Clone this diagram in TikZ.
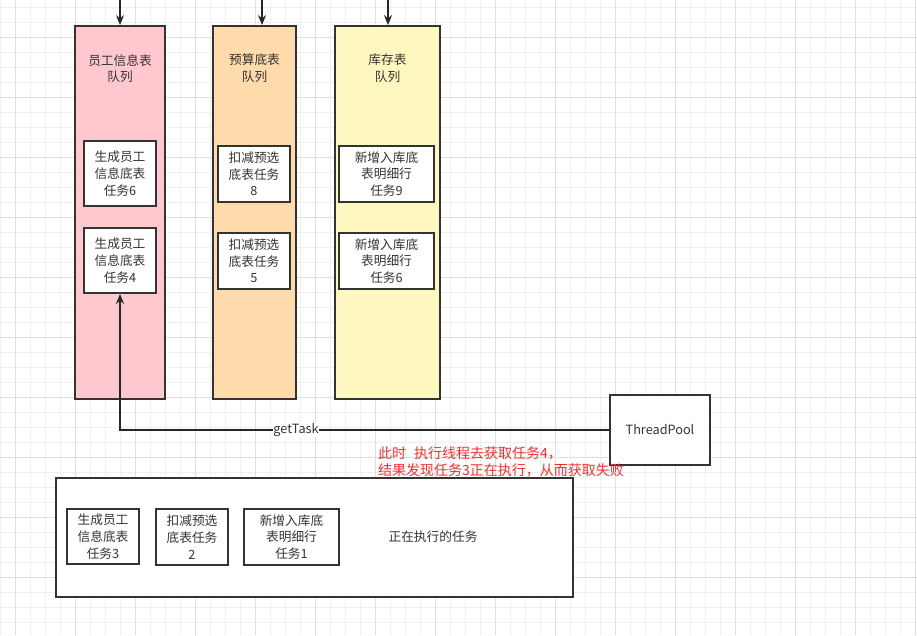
\documentclass[tikz,border=0pt]{standalone}
\usepackage{fontspec}
\setmainfont{Noto Sans CJK SC}
\usetikzlibrary{positioning}
\usetikzlibrary{arrows.meta}

\definecolor{gridminor}{HTML}{EFEFEF}
\definecolor{gridmajor}{HTML}{DFDFDF}
\definecolor{pinkq}{HTML}{FFC8CE}
\definecolor{orangeq}{HTML}{FFDAAA}
\definecolor{yellowq}{HTML}{FFF7C0}
\definecolor{inktext}{HTML}{333333}
\definecolor{warnred}{HTML}{FF2A2A}

\begin{document}
\begin{tikzpicture}
		[x=1pt, y=-1pt, >={Stealth[length=10pt,width=8pt]},
		 txt/.style={text=inktext, font=\fontsize{12.7}{16.7}\selectfont, align=center, inner sep=1pt},
		 queue/.style={draw=black!80, line width=1.8pt, minimum height=373pt},
		 task/.style={txt, draw=black!80, fill=white, line width=1.8pt, minimum height=56pt},
		 link/.style={draw=black!85, line width=1.4pt}]
		\useasboundingbox (0,0) rectangle (917,635);
		% grid
		\foreach \gx in {0,15,...,915} \draw[gridminor, line width=0.8pt] (\gx,0) -- (\gx,635);
		\foreach \gy in {7,22,...,622} \draw[gridminor, line width=0.8pt] (0,\gy) -- (917,\gy);
		\foreach \gx in {15,75,...,915} \draw[gridmajor, line width=0.8pt] (\gx,0) -- (\gx,635);
		\foreach \gy in {37,97,...,577} \draw[gridmajor, line width=0.8pt] (0,\gy) -- (917,\gy);

		% queues
		\node[queue, fill=pinkq, minimum width=90pt] (empq) at (120,212.5) {};
		\node[queue, fill=orangeq, minimum width=83pt] (budq) at (254.5,212.5) {};
		\node[queue, fill=yellowq, minimum width=105pt] (stockq) at (387.5,212.5) {};
		\node[txt] at (120,68.5) {员工信息表\\队列};
		\node[txt] at (254.5,68.5) {预算底表\\队列};
		\node[txt] at (387.5,68.5) {库存表\\队列};

		\coordinate (empin) at (120,0);
		\coordinate (budin) at (262,0);
		\coordinate (stockin) at (388,0);
		\draw[link, ->] (empin) -- (empin |- empq.north);
		\draw[link, ->] (budin) -- (budin |- budq.north);
		\draw[link, ->] (stockin) -- (stockin |- stockq.north);

		% queued tasks
		\node[task, minimum width=72pt, minimum height=65pt] (emp6) at (120,173.5) {生成员工\\信息底表\\任务6};
		\node[task, minimum width=72pt, minimum height=65pt] (emp4) at (120,260.5) {生成员工\\信息底表\\任务4};
		\node[task, minimum width=72pt] (bud8) at (254,174) {扣减预选\\底表任务\\8};
		\node[task, minimum width=72pt] (bud5) at (254,261) {扣减预选\\底表任务\\5};
		\node[task, minimum width=95pt] (stock9) at (386.5,174) {新增入库底\\表明细行\\任务9};
		\node[task, minimum width=95pt] (stock6) at (386.5,261) {新增入库底\\表明细行\\任务6};

		% pool
		\node[task, minimum width=100pt, minimum height=70pt] (pool) at (660,430) {ThreadPool};
		\draw[link, ->] (pool) -| node[txt, fill=white, pos=0.32, inner sep=0.5pt] {getTask} (emp4);

		\node[text=warnred, font=\fontsize{14}{17}\selectfont, align=left, anchor=west, inner sep=0pt] (note) at (378,462) {此时\hspace{8pt}执行线程去获取任务4，\\结果发现任务3正在执行，从而获取失败};

		% running
		\node[draw=black!80, fill=white, line width=1.8pt, minimum width=517pt, minimum height=119pt] (running) at (314.5,537.5) {};
		\node[task, minimum width=72pt, minimum height=55pt] (run3) at (103,536.5) {生成员工\\信息底表\\任务3};
		\node[task, minimum width=72pt] (run2) at (192,537) {扣减预选\\底表任务\\2};
		\node[task, minimum width=95pt] (run1) at (291.5,537) {新增入库底\\表明细行\\任务1};
		\node[txt] (runlabel) at (433,537) {正在执行的任务};
	\end{tikzpicture}
\end{document}
